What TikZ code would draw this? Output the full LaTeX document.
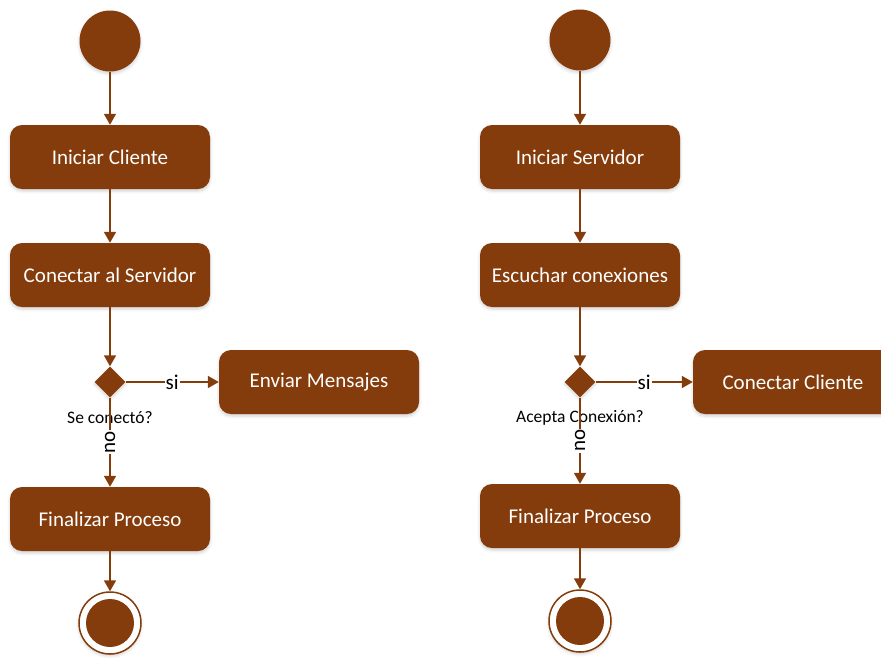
\documentclass[tikz,border=0pt]{standalone}
\usepackage{fontspec}
\setmainfont{Carlito}
\usetikzlibrary{arrows.meta,shapes.geometric,shadows.blur}
\definecolor{actbrown}{HTML}{843C0C}
\tikzset{
  softshadow/.style={blur shadow={shadow xshift=0pt,shadow yshift=-2pt,shadow blur radius=3pt,shadow opacity=18}},
  action/.style={rectangle,rounded corners=12pt,fill=actbrown,text=white,
    minimum width=200pt,minimum height=64pt,inner sep=0pt,
    font=\fontsize{21}{24}\selectfont,softshadow},
  startnode/.style={circle,fill=actbrown,minimum size=61pt,inner sep=0pt,softshadow},
  endnode/.style={circle,draw=actbrown,line width=1.5pt,fill=white,minimum size=62pt,inner sep=0pt,softshadow},
  decision/.style={diamond,fill=actbrown,minimum width=31pt,minimum height=31pt,inner sep=0pt,softshadow},
  flow/.style={draw=actbrown,line width=1.8pt,-{Triangle[length=11pt,width=12pt]}},
  guard/.style={fill=white,text=black,inner sep=1pt,font=\fontsize{21}{24}\selectfont},
  question/.style={text=black,inner sep=0pt,font=\fontsize{17.5}{20}\selectfont}
}
\begin{document}
\begin{tikzpicture}[x=1pt,y=1pt]
\useasboundingbox (0,0) rectangle (881,-657);

% client activity
\node[startnode] (sL) at (110,-41) {};
\node[action] (ic) at (110,-157) {Iniciar Cliente};
\node[action] (cs) at (110,-275) {Conectar al Servidor};
\node[decision] (dL) at (110,-382) {};
\node[action] (em) at (319,-382) {Enviar Mensajes};
\node[action] (fpL) at (110,-519) {Finalizar Proceso};
\node[endnode] (eL) at (110,-623) {};
\fill[actbrown] (eL.center) circle (24pt);

\draw[flow] (sL) -- (ic);
\draw[flow] (ic) -- (cs);
\draw[flow] (cs) -- (dL);
\draw[flow] (dL) -- node[guard] {si} (em);
\node[question] at (110,-418) {Se conectó?};
\draw[flow] (dL) -- node[guard,rotate=90] {no} (fpL);
\draw[flow] (fpL) -- (eL);

% server activity
\node[startnode] (sR) at (580,-40) {};
\node[action] (is) at (580,-157) {Iniciar Servidor};
\node[action] (ec) at (580,-275) {Escuchar conexiones};
\node[decision] (dR) at (580,-382) {};
\node[action] (cc) at (793,-382) {Conectar Cliente};
\node[action] (fpR) at (580,-516) {Finalizar Proceso};
\node[endnode] (eR) at (580,-621) {};
\fill[actbrown] (eR.center) circle (24pt);

\draw[flow] (sR) -- (is);
\draw[flow] (is) -- (ec);
\draw[flow] (ec) -- (dR);
\draw[flow] (dR) -- node[guard] {si} (cc);
\node[question] at (580,-418) {Acepta Conexión?};
\draw[flow] (dR) -- node[guard,rotate=90] {no} (fpR);
\draw[flow] (fpR) -- (eR);
\end{tikzpicture}
\end{document}
